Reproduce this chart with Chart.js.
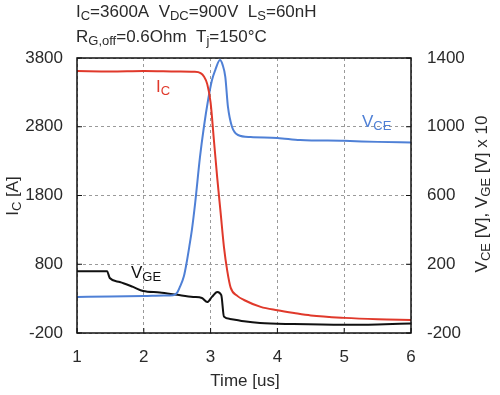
<!DOCTYPE html>
<html>
<head>
<meta charset="utf-8">
<script src="https://cdn.jsdelivr.net/npm/chart.js@4"></script>
<style>
  html, body { margin: 0; background: #fff; }
  #wrap { width: 500px; height: 395px; position: relative; }
</style>
</head>
<body>
<div id="wrap"><canvas id="c"></canvas></div>
<script>
// tick labels
const xTicks = [1, 2, 3, 4, 5, 6];
const icTicks = [-200, 800, 1800, 2800, 3800];
const vTicks = [-200, 200, 600, 1000, 1400];

// I_C [A]
const icTime   = [1.0, 1.5, 2.0, 2.5, 2.75, 2.85, 2.9, 2.95, 3.0, 3.05, 3.1, 3.15, 3.2, 3.25, 3.3, 3.4, 3.5, 3.75, 4.0, 4.25, 4.5, 5.0, 5.5, 6.0];
const icValues = [3610, 3605, 3612, 3605, 3600, 3580, 3530, 3420, 3150, 2600, 2050, 1550, 1050, 700, 460, 340, 280, 180, 130, 90, 55, 20, 0, -10];

// V_CE [V]
const vceTime   = [1.0, 1.5, 2.0, 2.3, 2.44, 2.5, 2.54, 2.6, 2.64, 2.68, 2.72, 2.77, 2.84, 2.9, 2.96, 3.02, 3.07, 3.14, 3.18, 3.22, 3.26, 3.32, 3.41, 3.6, 4.0, 4.34, 5.0, 5.5, 6.0];
const vceValues = [10, 12, 15, 18, 20, 35, 68, 130, 207, 300, 400, 560, 820, 1000, 1150, 1270, 1330, 1388, 1360, 1290, 1115, 1000, 952, 940, 935, 923, 918, 912, 908];

// V_GE [V] x 10
const vgeTime   = [1.0, 1.45, 1.49, 1.64, 1.84, 1.99, 2.24, 2.5, 2.74, 2.87, 2.95, 3.02, 3.1, 3.16, 3.2, 3.29, 3.5, 3.74, 4.24, 5.0, 5.5, 6.0];
const vgeValues = [160, 160, 120, 97, 68, 44, 36, 22, 10, 4, -20, 10, 39, 20, -105, -118, -132, -142, -148, -152, -150, -145];

const FONT = "'Liberation Sans', Arial, sans-serif";
const TXT = '#2a2a2a';

function pts(t, v) { return t.map((x, i) => ({ x: x, y: v[i] })); }

// text with subscripts: parts = [[text, isSub], ...]
function richWidth(ctx, parts, size) {
  let w = 0;
  parts.forEach(p => {
    ctx.font = (p[1] ? Math.round(size * 0.75) : size) + 'px ' + FONT;
    w += ctx.measureText(p[0]).width;
  });
  return w;
}
function drawRich(ctx, parts, x, y, size, color) {
  ctx.fillStyle = color;
  ctx.textBaseline = 'middle';
  ctx.textAlign = 'left';
  parts.forEach(p => {
    const s = p[1] ? Math.round(size * 0.75) : size;
    ctx.font = s + 'px ' + FONT;
    ctx.fillText(p[0], x, p[1] ? y + size * 0.28 : y);
    x += ctx.measureText(p[0]).width;
  });
}

const decor = {
  id: 'decor',
  afterDraw(chart) {
    const ctx = chart.ctx;
    const a = chart.chartArea;
    const sx = chart.scales.x, sl = chart.scales.yI, sr = chart.scales.yV;
    ctx.save();
    // frame
    ctx.strokeStyle = '#111';
    ctx.lineWidth = 1.5;
    ctx.strokeRect(a.left, a.top, a.right - a.left, a.bottom - a.top);
    // inward ticks
    ctx.lineWidth = 1;
    ctx.beginPath();
    xTicks.forEach(v => { const px = sx.getPixelForValue(v); ctx.moveTo(px, a.bottom); ctx.lineTo(px, a.bottom - 5); });
    icTicks.forEach(v => { const py = sl.getPixelForValue(v); ctx.moveTo(a.left, py); ctx.lineTo(a.left + 5, py); });
    vTicks.forEach(v => { const py = sr.getPixelForValue(v); ctx.moveTo(a.right, py); ctx.lineTo(a.right - 5, py); });
    ctx.stroke();

    // header lines
    drawRich(ctx, [['I', 0], ['C', 1], ['=3600A  V', 0], ['DC', 1], ['=900V  L', 0], ['S', 1], ['=60nH', 0]], 76, 12, 17, TXT);
    drawRich(ctx, [['R', 0], ['G,off', 1], ['=0.6Ohm  T', 0], ['j', 1], ['=150°C', 0]], 76, 37, 17, TXT);

    // curve labels
    drawRich(ctx, [['I', 0], ['C', 1]], 156, 87, 17, '#e0392b');
    drawRich(ctx, [['V', 0], ['CE', 1]], 362, 122, 17, '#4f80d6');
    drawRich(ctx, [['V', 0], ['GE', 1]], 131, 273, 17, '#111');

    // x title
    ctx.font = '17px ' + FONT;
    ctx.fillStyle = TXT;
    ctx.textAlign = 'center';
    ctx.textBaseline = 'middle';
    ctx.fillText('Time [us]', 245, 381);

    // left title
    let parts = [['I', 0], ['C', 1], [' [A]', 0]];
    let w = richWidth(ctx, parts, 17);
    ctx.save();
    ctx.translate(13, 196);
    ctx.rotate(-Math.PI / 2);
    drawRich(ctx, parts, -w / 2, 0, 17, TXT);
    ctx.restore();

    // right title
    parts = [['V', 0], ['CE', 1], [' [V], V', 0], ['GE', 1], [' [V] x 10', 0]];
    w = richWidth(ctx, parts, 17);
    ctx.save();
    ctx.translate(482, 194);
    ctx.rotate(-Math.PI / 2);
    drawRich(ctx, parts, -w / 2, 0, 17, TXT);
    ctx.restore();

    ctx.restore();
  }
};

function setTicks(list) {
  return function (scale) { scale.ticks = list.map(v => ({ value: v })); };
}
const tickFont = { family: FONT, size: 17 };
const plain = v => String(v);

new Chart(document.getElementById('c'), {
  type: 'line',
  data: {
    datasets: [
      { label: 'IC', data: pts(icTime, icValues), yAxisID: 'yI', borderColor: '#e0392b', borderWidth: 2 },
      { label: 'VCE', data: pts(vceTime, vceValues), yAxisID: 'yV', borderColor: '#4f80d6', borderWidth: 2 },
      { label: 'VGE', data: pts(vgeTime, vgeValues), yAxisID: 'yV', borderColor: '#111', borderWidth: 2 }
    ]
  },
  options: {
    responsive: true,
    maintainAspectRatio: false,
    animation: false,
    layout: { padding: { top: 58, left: 0, right: 0, bottom: 0 } },
    elements: {
      point: { radius: 0 },
      line: { cubicInterpolationMode: 'monotone', fill: false }
    },
    plugins: { legend: { display: false }, tooltip: { enabled: false } },
    scales: {
      x: {
        type: 'linear', min: 1, max: 6,
        afterBuildTicks: setTicks(xTicks),
        afterFit: s => { s.height = 62; },
        grid: { color: '#9a9a9a', drawTicks: false, lineWidth: 1 },
        border: { display: false, dash: [3, 3] },
        ticks: { padding: 14, color: TXT, font: tickFont, callback: plain }
      },
      yI: {
        position: 'left', min: -200, max: 3800,
        afterBuildTicks: setTicks(icTicks),
        afterFit: s => { s.width = 77; },
        grid: { color: '#9a9a9a', drawTicks: false, lineWidth: 1 },
        border: { display: false, dash: [3, 3] },
        ticks: { padding: 14, color: TXT, font: tickFont, callback: plain }
      },
      yV: {
        position: 'right', min: -200, max: 1400,
        afterBuildTicks: setTicks(vTicks),
        afterFit: s => { s.width = 89; },
        grid: { display: false, drawTicks: false },
        border: { display: false },
        ticks: { padding: 16, color: TXT, font: tickFont, callback: plain }
      }
    }
  },
  plugins: [decor]
});
</script>
</body>
</html>
